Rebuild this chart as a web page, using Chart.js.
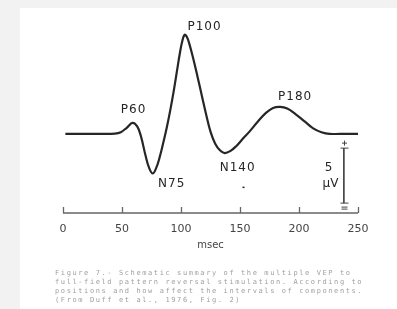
<!DOCTYPE html>
<html>
<head>
<meta charset="utf-8">
<script src="https://cdn.jsdelivr.net/npm/chart.js@4.4.0/dist/chart.umd.min.js"></script>
<style>
html, body { margin: 0; padding: 0; background: #f2f2f2; overflow: hidden; }
canvas { display: block; }
</style>
</head>
<body>
<canvas id="grafico" width="397" height="309"></canvas>
<script>
// waveform: latency (ms) and amplitude (uV)
const latencia = [2, 30, 44, 49, 54, 59, 63, 66, 70, 73, 76, 79, 82, 85, 88, 91, 94, 97, 99, 101, 103, 105, 107, 110, 114, 118, 121, 125, 129, 133, 137, 142, 147, 152, 158, 165, 172, 178, 184, 190, 197, 205, 212, 219, 226, 240, 252];
const amplitude = [0, 0, 0.02, 0.15, 0.55, 1.0, 0.65, -0.2, -2.0, -3.1, -3.6, -3.1, -2.1, -0.8, 0.6, 2.2, 4.0, 6.0, 7.3, 8.4, 9.0, 8.8, 8.2, 7.0, 5.2, 3.3, 1.9, 0.2, -0.9, -1.5, -1.75, -1.55, -1.1, -0.5, 0.2, 1.1, 1.9, 2.35, 2.45, 2.3, 1.8, 1.1, 0.5, 0.15, 0, 0, 0];

// named peaks
const picos = ['P60', 'N75', 'P100', 'N140', 'P180'];
const picoLatencia = [59, 76, 103, 137, 184];
const picoAmplitude = [1.0, -3.6, 9.0, -1.75, 2.45];

// time axis
const marcasTempo = [0, 50, 100, 150, 200, 250];

// calibration bar: 5 uV
const escalaLatencia = 238;
const escalaTopo = -1.3;
const escalaValor = 5;

const legenda = [
  'Figure 7.- Schematic summary of the multiple VEP to',
  'full-field pattern reversal stimulation. According to',
  'positions and how affect the intervals of components.',
  '(From Duff et al., 1976, Fig. 2)'
];

const fonte = 'DejaVu Sans';
const tinta = '#262626';

const desenhos = {
  id: 'desenhos',
  beforeDraw(chart) {
    const c = chart.ctx;
    c.save();
    c.fillStyle = '#f2f2f2';
    c.fillRect(0, 0, chart.width, chart.height);
    c.fillStyle = '#ffffff';
    c.fillRect(20, 8, chart.width - 20, chart.height - 8);
    c.restore();
  },
  afterDraw(chart) {
    const c = chart.ctx;
    const xs = chart.scales.x;
    const ys = chart.scales.y;
    const base = chart.chartArea.bottom;
    c.save();

    // axis line with upward ticks
    c.strokeStyle = '#666';
    c.lineWidth = 1.3;
    c.beginPath();
    c.moveTo(xs.getPixelForValue(marcasTempo[0]), base);
    c.lineTo(xs.getPixelForValue(marcasTempo[marcasTempo.length - 1]), base);
    for (const t of marcasTempo) {
      const px = Math.round(xs.getPixelForValue(t)) + 0.5;
      c.moveTo(px, base);
      c.lineTo(px, base - 6);
    }
    c.stroke();

    // peak names
    const desvio = [[1, -13], [19, 10], [20, -8], [13, 15], [15, -10]];
    c.fillStyle = tinta;
    c.font = '12px "' + fonte + '"';
    c.letterSpacing = '1px';
    c.textAlign = 'center';
    c.textBaseline = 'middle';
    for (let i = 0; i < picos.length; i++) {
      const px = xs.getPixelForValue(picoLatencia[i]) + desvio[i][0];
      const py = ys.getPixelForValue(picoAmplitude[i]) + desvio[i][1];
      c.fillText(picos[i], px, py);
    }
    // stray dot under N140
    c.fillRect(xs.getPixelForValue(153) - 1, ys.getPixelForValue(-4.8), 2, 1.5);

    // calibration bar caps and signs
    const bx = Math.round(xs.getPixelForValue(escalaLatencia)) + 0.5;
    const yTopo = ys.getPixelForValue(escalaTopo);
    const yBase = ys.getPixelForValue(escalaTopo - escalaValor);
    c.strokeStyle = '#444';
    c.lineWidth = 1;
    c.beginPath();
    c.moveTo(bx - 4, yTopo); c.lineTo(bx + 4, yTopo);
    c.moveTo(bx - 4, yBase); c.lineTo(bx + 4, yBase);
    c.moveTo(bx - 2.5, yTopo - 5); c.lineTo(bx + 2.5, yTopo - 5);
    c.moveTo(bx, yTopo - 7.5); c.lineTo(bx, yTopo - 2.5);
    c.moveTo(bx - 3, yBase + 4); c.lineTo(bx + 3, yBase + 4);
    c.moveTo(bx - 3, yBase + 6); c.lineTo(bx + 3, yBase + 6);
    c.stroke();
    const meio = (yTopo + yBase) / 2;
    c.letterSpacing = '0px';
    c.fillText('5', bx - 16, meio - 8);
    c.fillText('\u00b5V', bx - 14, meio + 8);

    // caption
    c.fillStyle = '#a0a0a0';
    c.font = '7px "DejaVu Sans Mono"';
    c.letterSpacing = '1.6px';
    c.textAlign = 'left';
    for (let i = 0; i < legenda.length; i++) {
      c.fillText(legenda[i], 55, 273 + i * 9);
    }
    c.restore();
  }
};

const pontos = latencia.map((t, i) => ({ x: t, y: amplitude[i] }));
const barra = [
  { x: escalaLatencia, y: escalaTopo },
  { x: escalaLatencia, y: escalaTopo - escalaValor }
];

new Chart(document.getElementById('grafico'), {
  type: 'line',
  data: {
    datasets: [
      {
        label: 'VEP',
        data: pontos,
        borderColor: tinta,
        borderWidth: 2.2,
        pointRadius: 0,
        fill: false,
        tension: 0.4
      },
      {
        label: '5 uV',
        data: barra,
        borderColor: '#444',
        borderWidth: 1,
        pointRadius: 0,
        fill: false
      }
    ]
  },
  options: {
    responsive: false,
    animation: false,
    events: [],
    layout: { padding: { left: 63, right: 39, top: 20, bottom: 58 } },
    plugins: { legend: { display: false }, tooltip: { enabled: false } },
    scales: {
      x: {
        type: 'linear',
        min: 0,
        max: 250,
        afterFit: (s) => { s.height = 38; },
        grid: { display: false, drawTicks: false },
        border: { display: false },
        ticks: {
          stepSize: 50,
          padding: 10,
          color: '#444',
          font: { family: fonte, size: 11 }
        },
        title: {
          display: true,
          text: 'msec',
          color: '#444',
          padding: 0,
          font: { family: fonte, size: 10 }
        }
      },
      y: {
        display: false,
        min: -7.2,
        max: 10.35
      }
    }
  },
  plugins: [desenhos]
});
</script>
</body>
</html>
